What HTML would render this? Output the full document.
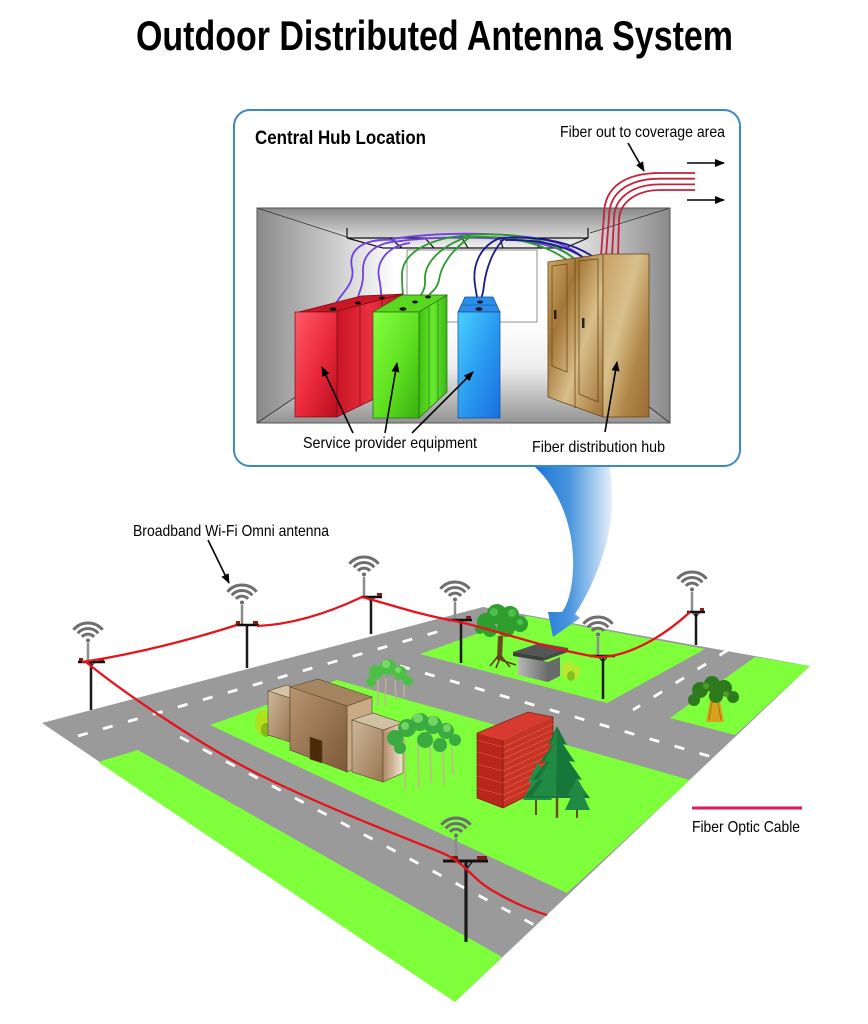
<!DOCTYPE html>
<html><head><meta charset="utf-8">
<style>html,body{margin:0;padding:0;background:#fff;}svg{display:block}</style>
</head><body>
<svg width="868" height="1024" viewBox="0 0 868 1024" xmlns="http://www.w3.org/2000/svg">
<defs>
  <marker id="ah" markerWidth="10" markerHeight="8" refX="9" refY="4" orient="auto" markerUnits="userSpaceOnUse">
    <path d="M0,0 L10,4 L0,8 Z" fill="#000"/>
  </marker>
  <g id="wf" fill="none" stroke="#6e6e6e" stroke-width="3">
    <path d="M-14.6,-12.2 A19,19 0 0 1 14.6,-12.2"/>
    <path d="M-10.3,-8.7 A13.5,13.5 0 0 1 10.3,-8.7"/>
    <path d="M-6.1,-5.1 A8,8 0 0 1 6.1,-5.1"/>
    <circle cx="0" cy="-1.5" r="2" fill="#6e6e6e" stroke="none"/>
  </g>
  <linearGradient id="gCeil" gradientUnits="userSpaceOnUse" x1="0" y1="208" x2="0" y2="250">
    <stop offset="0" stop-color="#8a8a8a"/><stop offset="1" stop-color="#f6f6f6"/>
  </linearGradient>
  <linearGradient id="gLeft" gradientUnits="userSpaceOnUse" x1="257" y1="0" x2="395" y2="0">
    <stop offset="0" stop-color="#8a8a8a"/><stop offset="1" stop-color="#ffffff"/>
  </linearGradient>
  <linearGradient id="gRight" gradientUnits="userSpaceOnUse" x1="670" y1="0" x2="545" y2="0">
    <stop offset="0" stop-color="#8a8a8a"/><stop offset="1" stop-color="#ffffff"/>
  </linearGradient>
  <linearGradient id="gFloor" gradientUnits="userSpaceOnUse" x1="0" y1="322" x2="0" y2="423">
    <stop offset="0" stop-color="#ffffff"/><stop offset="0.45" stop-color="#eeeeee"/><stop offset="1" stop-color="#939393"/>
  </linearGradient>
  <linearGradient id="gRedF" x1="0" y1="0" x2="1" y2="1">
    <stop offset="0" stop-color="#ff5a6a"/><stop offset="0.55" stop-color="#e8283a"/><stop offset="1" stop-color="#b80e1e"/>
  </linearGradient>
  <linearGradient id="gRedS" x1="0" y1="0" x2="1" y2="0">
    <stop offset="0" stop-color="#c81424"/><stop offset="0.5" stop-color="#e83040"/><stop offset="1" stop-color="#c01020"/>
  </linearGradient>
  <linearGradient id="gGrF" x1="0" y1="0" x2="1" y2="1">
    <stop offset="0" stop-color="#86ff40"/><stop offset="0.55" stop-color="#5ee020"/><stop offset="1" stop-color="#38b010"/>
  </linearGradient>
  <linearGradient id="gGrS" x1="0" y1="0" x2="1" y2="0">
    <stop offset="0" stop-color="#40c010"/><stop offset="0.5" stop-color="#68e830"/><stop offset="1" stop-color="#3cb818"/>
  </linearGradient>
  <linearGradient id="gBl" x1="0" y1="0" x2="1" y2="1">
    <stop offset="0" stop-color="#4ad0ff"/><stop offset="0.5" stop-color="#2a9cf0"/><stop offset="1" stop-color="#1a6ee0"/>
  </linearGradient>
  <linearGradient id="gBrS" x1="0" y1="0" x2="1" y2="1">
    <stop offset="0" stop-color="#d0aa6a"/><stop offset="0.3" stop-color="#a47638"/><stop offset="0.6" stop-color="#d8be88"/><stop offset="1" stop-color="#a07036"/>
  </linearGradient>
  <linearGradient id="gBrF" x1="0" y1="0" x2="1" y2="1">
    <stop offset="0" stop-color="#c8a064"/><stop offset="0.4" stop-color="#d8c08c"/><stop offset="0.7" stop-color="#b08648"/><stop offset="1" stop-color="#9a6c32"/>
  </linearGradient>
  <linearGradient id="gArrow" x1="0" y1="0" x2="1" y2="0">
    <stop offset="0" stop-color="#1a74d4"/><stop offset="0.45" stop-color="#4a96de"/><stop offset="1" stop-color="#e6f0fa"/>
  </linearGradient>
  <linearGradient id="gTanF" x1="0" y1="0" x2="1" y2="1">
    <stop offset="0" stop-color="#b89470"/><stop offset="1" stop-color="#7c5838"/>
  </linearGradient>
  <linearGradient id="gTanR" x1="0" y1="0" x2="1" y2="0">
    <stop offset="0" stop-color="#b08a64"/><stop offset="1" stop-color="#f2e4d4"/>
  </linearGradient>
  <linearGradient id="gTanS" x1="0" y1="0" x2="1" y2="1">
    <stop offset="0" stop-color="#cdb89a"/><stop offset="1" stop-color="#9a7652"/>
  </linearGradient>
  <linearGradient id="gHut" x1="0" y1="0" x2="1" y2="0">
    <stop offset="0" stop-color="#b8b8b8"/><stop offset="1" stop-color="#6a6a6a"/>
  </linearGradient>
</defs>

<rect width="868" height="1024" fill="#fff"/>

<!-- Title -->
<text x="136" y="50" font-family="Liberation Sans, Arial, sans-serif" font-weight="bold" font-size="42" textLength="597" lengthAdjust="spacingAndGlyphs" fill="#000">Outdoor Distributed Antenna System</text>

<!-- Hub box -->
<rect x="234" y="110" width="506" height="356" rx="16" ry="16" fill="#fff" stroke="#3a89c9" stroke-width="2"/>
<text x="255" y="144" font-family="Liberation Sans, Arial, sans-serif" font-weight="bold" font-size="19" textLength="171" lengthAdjust="spacingAndGlyphs">Central Hub Location</text>
<text x="560" y="137" font-family="Liberation Sans, Arial, sans-serif" font-size="16" textLength="165" lengthAdjust="spacingAndGlyphs">Fiber out to coverage area</text>
<line x1="628" y1="143" x2="644" y2="171" stroke="#000" stroke-width="1.6" marker-end="url(#ah)"/>
<line x1="687" y1="163" x2="724" y2="163" stroke="#000" stroke-width="1.6" marker-end="url(#ah)"/>
<line x1="687" y1="200" x2="724" y2="200" stroke="#000" stroke-width="1.6" marker-end="url(#ah)"/>

<!-- Room -->
<rect x="257" y="208" width="413" height="215" fill="#8c8c8c"/>
<polygon points="257,208 670,208 537,250 407,250" fill="url(#gCeil)"/>
<polygon points="257,208 407,250 407,322 257,423" fill="url(#gLeft)"/>
<polygon points="670,208 537,250 537,322 670,423" fill="url(#gRight)"/>
<polygon points="257,423 407,322 537,322 670,423" fill="url(#gFloor)"/>
<rect x="407" y="250" width="130" height="72" fill="#fff" stroke="#777" stroke-width="0.8"/>
<g stroke="#333" stroke-width="0.8" fill="none">
  <line x1="257" y1="208" x2="347" y2="237"/>
  <line x1="670" y1="208" x2="590" y2="233"/>
  <line x1="257" y1="423" x2="300" y2="394"/>
  <line x1="670" y1="423" x2="648" y2="406"/>
</g>
<rect x="257" y="208" width="413" height="215" fill="none" stroke="#555" stroke-width="1"/>

<!-- fiber bundle -->
<g fill="none" stroke="#c8203c" stroke-width="1.8">
  <path d="M695,173 L660,173 C628,173 604,185 604,215 L601,256"/>
  <path d="M695,178.7 L660,178.7 C632,178.7 609,190 609,217 L606,256"/>
  <path d="M695,184.4 L660,184.4 C636,184.4 614,195 614,219 L612,256"/>
  <path d="M695,190 L660,190 C640,190 619,200 619,221 L618,256"/>
</g>

<!-- tray -->
<g stroke="#111" stroke-width="1.2" fill="none">
  <line x1="347" y1="228" x2="347" y2="238"/>
  <line x1="588" y1="228" x2="588" y2="238"/>
  <line x1="347" y1="238" x2="588" y2="238"/>
  <line x1="383" y1="248" x2="565" y2="248"/>
  <line x1="347" y1="238" x2="383" y2="248"/>
  <line x1="588" y1="238" x2="565" y2="248"/>
  <line x1="390" y1="238" x2="402" y2="248"/>
  <line x1="425" y1="238" x2="434" y2="248"/>
  <line x1="462" y1="238" x2="468" y2="248"/>
  <line x1="500" y1="238" x2="503" y2="248"/>
  <line x1="540" y1="238" x2="538" y2="248"/>
</g>

<!-- cables -->
<g fill="none" stroke-width="1.8">
  <g stroke="#7040e0">
    <path d="M395,240 C362,238 348,250 352,268 C356,285 338,295 333,309"/>
    <path d="M402,241 C374,242 362,255 363,272 C364,288 356,295 358,303"/>
    <path d="M410,243 C387,246 376,262 379,278 C382,290 380,294 382,298"/>
    <path d="M392,239 C450,230 530,233 560,244 C575,250 582,256 588,264"/>
    <path d="M400,241 C455,234 528,238 556,248 C568,253 575,258 580,265"/>
  </g>
  <g stroke="#2a9a2a">
    <path d="M470,235 C425,238 402,255 402,275 C402,292 404,300 403,309"/>
    <path d="M470,236 C442,245 424,262 425,280 C426,292 418,298 415,302"/>
    <path d="M470,237 C452,250 441,265 439,280 C437,290 430,292 428,297"/>
    <path d="M470,235 C522,231 558,243 578,262"/>
    <path d="M470,237 C518,235 552,247 572,264"/>
  </g>
  <g stroke="#1a1a8a">
    <path d="M500,238 C480,246 472,265 475,285 C477,298 478,302 479,308"/>
    <path d="M505,238 C492,250 486,270 484,285 C483,296 481,298 480,302"/>
    <path d="M498,238 C545,235 575,244 595,258"/>
    <path d="M505,240 C545,239 572,248 590,262"/>
  </g>
</g>

<!-- red cabinets -->
<polygon points="337,311 403,294 403,385 337,417" fill="url(#gRedS)" stroke="#7a0a10" stroke-width="0.7"/>
<polygon points="295,313 337,311 403,294 361,296" fill="#c81828" stroke="#7a0a10" stroke-width="0.7"/>
<rect x="295" y="312" width="42" height="105" fill="url(#gRedF)" stroke="#7a0a10" stroke-width="0.7"/>
<line x1="360" y1="305" x2="360" y2="406" stroke="#8a0a14" stroke-width="0.8"/>
<line x1="382" y1="300" x2="382" y2="395" stroke="#8a0a14" stroke-width="0.8"/>
<g fill="#111"><ellipse cx="333" cy="309" rx="3.5" ry="1.8"/><ellipse cx="358" cy="303" rx="3" ry="1.5"/><ellipse cx="382" cy="298" rx="3" ry="1.5"/></g>

<!-- green cabinets -->
<polygon points="419,312 447,295 447,392 419,418" fill="url(#gGrS)" stroke="#1e6a0a" stroke-width="0.7"/>
<polygon points="373,312 419,312 447,295 402,295" fill="#5ad820" stroke="#1e6a0a" stroke-width="0.7"/>
<rect x="373" y="312" width="46" height="106" fill="url(#gGrF)" stroke="#1e6a0a" stroke-width="0.7"/>
<line x1="429" y1="306" x2="429" y2="409" stroke="#2a8a10" stroke-width="0.8"/>
<line x1="438" y1="301" x2="438" y2="400" stroke="#2a8a10" stroke-width="0.8"/>
<g fill="#111"><ellipse cx="403" cy="309" rx="3.5" ry="1.8"/><ellipse cx="415" cy="302" rx="3" ry="1.5"/><ellipse cx="428" cy="297" rx="3" ry="1.5"/></g>

<!-- blue cabinet -->
<polygon points="458,312 465,297 493,297 500,312" fill="#2a8ee8" stroke="#0e4a9a" stroke-width="0.7"/>
<line x1="461" y1="305" x2="497" y2="305" stroke="#0e4a9a" stroke-width="0.6"/>
<rect x="458" y="312" width="42" height="106" fill="url(#gBl)" stroke="#0e4a9a" stroke-width="0.7"/>
<g fill="#111"><ellipse cx="479" cy="309" rx="3.5" ry="1.8"/><ellipse cx="480" cy="302" rx="3" ry="1.5"/></g>

<!-- brown cabinets -->
<polygon points="548,262 603,254 603,417 548,397" fill="url(#gBrS)" stroke="#6a4818" stroke-width="0.8"/>
<rect x="603" y="254" width="46" height="163" fill="url(#gBrF)" stroke="#6a4818" stroke-width="0.8"/>
<line x1="575" y1="258" x2="575" y2="408" stroke="#6a4818" stroke-width="0.8"/>
<g fill="none" stroke="#6a4818" stroke-width="0.8">
  <polygon points="552,266 567,264 567,372 552,366"/>
  <polygon points="579,261 598,259 598,402 579,394"/>
</g>
<rect x="554" y="310" width="2.5" height="9" fill="#222"/>
<rect x="582" y="318" width="2.5" height="10" fill="#222"/>

<!-- hub labels -->
<text x="303" y="448" font-family="Liberation Sans, Arial, sans-serif" font-size="16" textLength="174" lengthAdjust="spacingAndGlyphs">Service provider equipment</text>
<text x="532" y="452" font-family="Liberation Sans, Arial, sans-serif" font-size="16" textLength="133" lengthAdjust="spacingAndGlyphs">Fiber distribution hub</text>
<g stroke="#000" stroke-width="1.6">
  <line x1="353" y1="433" x2="322" y2="367" marker-end="url(#ah)"/>
  <line x1="385" y1="433" x2="397" y2="363" marker-end="url(#ah)"/>
  <line x1="412" y1="433" x2="473" y2="372" marker-end="url(#ah)"/>
  <line x1="605" y1="432" x2="617" y2="362" marker-end="url(#ah)"/>
</g>

<!-- Ground -->
<polygon points="42,723 483,607 810,666 455,1002" fill="#9a9a9a"/>
<g fill="#7fff3c">
  <polygon points="98,762 138,750 502,957 455,1002"/>
  <polygon points="210,725 337,680 690,780 567,893"/>
  <polygon points="420,654 527,616 705,649 607,703"/>
  <polygon points="670,718 755,657 810,666 735,735"/>
</g>
<g stroke="#fff" stroke-width="2.8" stroke-dasharray="10 16" fill="none">
  <line x1="78" y1="736" x2="440" y2="631"/>
  <line x1="180" y1="737" x2="540" y2="928"/>
  <line x1="400" y1="666" x2="712" y2="757"/>
  <line x1="728" y1="650" x2="633" y2="710"/>
</g>

<!-- Blue arrow -->
<path d="M535,467 C560,490 575,530 573,570 C572,590 568,604 562,612 L548,612 L553,637 L580,618 L575,614 C592,590 612,540 612,505 C612,485 611,475 610,467 Z" fill="url(#gArrow)"/>

<!-- top block tree -->
<g>
  <path d="M498,636 L503,636 L502,660 L497,660 Z" fill="#6b4a1c"/>
  <path d="M499,655 L490,666 M500,658 L496,668 M501,656 L510,667 M501,660 L516,665" stroke="#5a3a12" stroke-width="1.6" fill="none"/>
  <g fill="#2e9e2e">
    <circle cx="486" cy="622" r="9"/><circle cx="497" cy="614" r="10"/><circle cx="510" cy="615" r="9"/>
    <circle cx="520" cy="624" r="8"/><circle cx="490" cy="630" r="7"/><circle cx="506" cy="628" r="9"/><circle cx="480" cy="629" r="5"/>
  </g>
  <g fill="#4cc04c"><circle cx="494" cy="612" r="4"/><circle cx="512" cy="613" r="4"/><circle cx="520" cy="622" r="3"/></g>
</g>

<!-- hut -->
<polygon points="518,657 548,662 548,682 518,675" fill="url(#gHut)"/>
<polygon points="548,662 560,657 560,676 548,682" fill="#6a6a6a"/>
<polygon points="513,652 540,643 568,648 543,657" fill="#555"/>
<polygon points="513,652 543,657 543,661 513,656" fill="#3e3e3e"/>
<polygon points="543,657 568,648 568,652 543,661" fill="#4a4a4a"/>
<!-- bush near hut -->
<g fill="#b8e830"><ellipse cx="568" cy="670" rx="6" ry="9"/><ellipse cx="575" cy="672" rx="5" ry="7"/></g>
<g fill="#86c020"><ellipse cx="571" cy="676" rx="4" ry="5"/></g>

<!-- right block tree -->
<g>
  <polygon points="710,700 720,700 724,722 706,722" fill="#d9a21e"/>
  <path d="M712,702 L709,720 M718,702 L721,720" stroke="#9a6a10" stroke-width="0.8"/>
  <g fill="#2f7a1c">
    <circle cx="700" cy="690" r="8"/><circle cx="712" cy="684" r="8"/><circle cx="724" cy="688" r="8"/>
    <circle cx="733" cy="697" r="6"/><circle cx="694" cy="700" r="6"/><circle cx="716" cy="696" r="7"/>
  </g>
  <g fill="#4e9a2a"><circle cx="706" cy="686" r="3"/><circle cx="726" cy="694" r="3"/></g>
</g>

<!-- trees near tan building top -->
<g stroke="#c8b090" stroke-width="1.3">
  <line x1="378" y1="680" x2="378" y2="706"/><line x1="386" y1="678" x2="385" y2="705"/>
  <line x1="395" y1="680" x2="396" y2="700"/><line x1="404" y1="683" x2="404" y2="697"/>
</g>
<g fill="#4cbf45">
  <circle cx="376" cy="672" r="7"/><circle cx="388" cy="667" r="8"/><circle cx="400" cy="673" r="7"/>
  <circle cx="408" cy="681" r="5"/><circle cx="371" cy="682" r="5"/>
</g>
<g fill="#7ad86a"><circle cx="386" cy="664" r="4"/><circle cx="398" cy="670" r="3"/></g>

<!-- bush left of tan building -->
<g fill="#b0e020"><ellipse cx="262" cy="722" rx="7" ry="12"/><ellipse cx="271" cy="726" rx="7" ry="10"/></g>
<g fill="#86b818"><ellipse cx="266" cy="730" rx="5" ry="7"/></g>

<!-- tan building -->
<g stroke="#5a4430" stroke-width="0.6">
  <polygon points="268,691 287,685 290,686 290,698" fill="#d4c4a2"/>
  <polygon points="268,691 290,698 290,742 268,735" fill="url(#gTanS)"/>
  <polygon points="347,706 372,697 372,760 347,772" fill="#c8aa84"/>
  <polygon points="290,687 318,679 372,697 347,706" fill="#a58560"/>
  <polygon points="290,687 347,706 347,772 290,750" fill="url(#gTanF)"/>
  <polygon points="310,737 322,741 322,763 310,759" fill="#4a2a08"/>
  <polygon points="352,720 373,713 403,723 383,730" fill="#cfc2a2"/>
  <polygon points="352,720 383,730 383,782 352,772" fill="url(#gTanS)"/>
  <polygon points="383,730 403,723 403,773 383,782" fill="url(#gTanR)"/>
</g>

<!-- tree cluster between buildings -->
<g stroke="#c8b48c" stroke-width="1.5">
  <line x1="392" y1="745" x2="393" y2="775"/><line x1="405" y1="740" x2="405" y2="790"/>
  <line x1="418" y1="740" x2="419" y2="788"/><line x1="430" y1="745" x2="431" y2="783"/>
  <line x1="443" y1="748" x2="444" y2="785"/><line x1="452" y1="748" x2="453" y2="775"/>
</g>
<g fill="#3aab40">
  <circle cx="395" cy="738" r="8"/><circle cx="407" cy="728" r="9"/><circle cx="420" cy="722" r="9"/>
  <circle cx="433" cy="725" r="9"/><circle cx="446" cy="731" r="8"/><circle cx="455" cy="740" r="6"/>
  <circle cx="400" cy="748" r="6"/><circle cx="425" cy="740" r="8"/><circle cx="440" cy="745" r="7"/>
</g>
<g fill="#74d466"><circle cx="418" cy="718" r="5"/><circle cx="433" cy="721" r="5"/><circle cx="447" cy="728" r="4"/><circle cx="405" cy="726" r="4"/></g>

<!-- red building -->
<polygon points="477,733 503,740 503,808 477,798" fill="#b8261c"/>
<polygon points="503,740 553,717 553,783 503,808" fill="#c83424"/>
<polygon points="477,733 528,712 553,717 503,740" fill="#d83a30"/>
<g stroke="#e88070" stroke-width="0.6" opacity="0.7">
  <line x1="503" y1="747" x2="553" y2="724"/><line x1="503" y1="753" x2="553" y2="730"/>
  <line x1="503" y1="759" x2="553" y2="736"/><line x1="503" y1="765" x2="553" y2="742"/>
  <line x1="503" y1="771" x2="553" y2="748"/><line x1="503" y1="777" x2="553" y2="754"/>
  <line x1="503" y1="783" x2="553" y2="760"/><line x1="503" y1="789" x2="553" y2="766"/>
  <line x1="503" y1="795" x2="553" y2="772"/><line x1="503" y1="801" x2="553" y2="778"/>
  <line x1="477" y1="740" x2="503" y2="747"/><line x1="477" y1="752" x2="503" y2="759"/>
  <line x1="477" y1="764" x2="503" y2="771"/><line x1="477" y1="776" x2="503" y2="783"/>
  <line x1="477" y1="788" x2="503" y2="795"/>
</g>
<g stroke="#6a1008" stroke-width="0.6" fill="none">
  <polygon points="477,733 528,712 553,717 553,783 503,808 477,798"/>
  <line x1="503" y1="740" x2="503" y2="808"/>
</g>

<!-- pines -->
<line x1="536" y1="790" x2="536" y2="815" stroke="#6b4a1c" stroke-width="2"/>
<polygon points="538,762 528,782 532,782 523,800 552,800 544,782 548,782" fill="#23904a"/>
<line x1="557" y1="795" x2="557" y2="818" stroke="#6b4a1c" stroke-width="2.5"/>
<polygon points="557,726 548,745 553,744 540,762 547,761 532,780 539,779 523,798 590,798 576,779 582,780 569,761 575,762 563,744 567,745" fill="#17773a"/>
<polygon points="557,730 550,745 554,744 544,762 550,761 538,780 544,779 532,796 556,796" fill="#2a9a4a" opacity="0.6"/>
<line x1="577" y1="808" x2="577" y2="818" stroke="#6b4a1c" stroke-width="2"/>
<polygon points="577,778 568,795 572,795 565,810 590,810 583,795 587,795" fill="#1f8a44"/>

<!-- poles -->
<g>
  <use href="#wf" x="88" y="642"/>
  <line x1="88" y1="643" x2="88" y2="661" stroke="#8c8c8c" stroke-width="2.5"/>
  <line x1="91" y1="662" x2="91" y2="710" stroke="#1a1a1a" stroke-width="2.5"/>
  <line x1="78" y1="662" x2="105" y2="662" stroke="#111" stroke-width="2.5"/>
  <rect x="79" y="658" width="4" height="3" fill="#8b1a1a"/><rect x="99" y="658" width="5" height="3" fill="#8b1a1a"/>
  <path d="M87,662 L91,667 L95,662" stroke="#111" fill="none" stroke-width="1"/>
</g>
<g>
  <use href="#wf" x="242" y="604"/>
  <line x1="242" y1="605" x2="242" y2="624" stroke="#8c8c8c" stroke-width="2.5"/>
  <line x1="247" y1="625" x2="247" y2="668" stroke="#1a1a1a" stroke-width="2.5"/>
  <line x1="235" y1="625" x2="259" y2="625" stroke="#111" stroke-width="2.5"/>
  <rect x="236" y="621" width="4" height="3" fill="#8b1a1a"/><rect x="253" y="621" width="5" height="3" fill="#8b1a1a"/>
</g>
<g>
  <use href="#wf" x="364" y="576"/>
  <line x1="364" y1="577" x2="364" y2="596" stroke="#8c8c8c" stroke-width="2.5"/>
  <line x1="371" y1="597" x2="371" y2="634" stroke="#1a1a1a" stroke-width="2.5"/>
  <line x1="361" y1="597" x2="382" y2="597" stroke="#111" stroke-width="2.5"/>
  <rect x="377" y="593" width="5" height="3" fill="#8b1a1a"/>
  <path d="M367,597 L371,602 L375,597" stroke="#111" fill="none" stroke-width="1"/>
</g>
<g>
  <use href="#wf" x="455" y="601"/>
  <line x1="455" y1="602" x2="455" y2="619" stroke="#8c8c8c" stroke-width="2.5"/>
  <line x1="461" y1="620" x2="461" y2="663" stroke="#1a1a1a" stroke-width="2.5"/>
  <line x1="448" y1="620" x2="472" y2="620" stroke="#111" stroke-width="2.5"/>
  <rect x="466" y="616" width="5" height="3" fill="#8b1a1a"/>
</g>
<g>
  <use href="#wf" x="598" y="636"/>
  <line x1="598" y1="637" x2="598" y2="655" stroke="#8c8c8c" stroke-width="2.5"/>
  <line x1="603" y1="656" x2="603" y2="699" stroke="#1a1a1a" stroke-width="2.5"/>
  <line x1="590" y1="656" x2="615" y2="656" stroke="#111" stroke-width="2.5"/>
  <path d="M598,656 L603,662 L608,656" stroke="#111" fill="none" stroke-width="1"/>
</g>
<g>
  <use href="#wf" x="692" y="591"/>
  <line x1="692" y1="592" x2="692" y2="611" stroke="#8c8c8c" stroke-width="2.5"/>
  <line x1="696" y1="612" x2="696" y2="645" stroke="#1a1a1a" stroke-width="2.5"/>
  <line x1="687" y1="612" x2="705" y2="612" stroke="#111" stroke-width="2.5"/>
  <rect x="700" y="608" width="4" height="3" fill="#8b1a1a"/>
  <path d="M692,612 L696,617 L700,612" stroke="#111" fill="none" stroke-width="1"/>
</g>
<g>
  <use href="#wf" x="456" y="837"/>
  <line x1="456" y1="838" x2="456" y2="859" stroke="#8c8c8c" stroke-width="2.5"/>
  <line x1="466" y1="861" x2="466" y2="942" stroke="#1a1a1a" stroke-width="3.2"/>
  <line x1="443" y1="861" x2="488" y2="861" stroke="#111" stroke-width="3"/>
  <rect x="452" y="856" width="6" height="4" fill="#7a1a1a"/><rect x="477" y="856" width="10" height="4" fill="#7a1a1a"/>
  <path d="M460,862 L466,870 L472,862" stroke="#111" fill="none" stroke-width="1.3"/>
</g>

<!-- fiber cable (red) -->
<g fill="none" stroke="#e5141b" stroke-width="2.3">
  <path d="M82,662 Q155,651 237,625"/>
  <path d="M257,626 Q305,624 362,597"/>
  <path d="M362,597 C385,603 420,615 455,621 C490,628 550,650 598,657 C630,657 665,635 690,612"/>
  <path d="M86,662 C120,690 200,745 260,775 C320,805 400,836 440,852 C450,856 456,860 463,866 C472,874 480,884 495,892 C510,901 530,910 547,915"/>
</g>

<!-- labels -->
<text x="133" y="536" font-family="Liberation Sans, Arial, sans-serif" font-size="16" textLength="196" lengthAdjust="spacingAndGlyphs">Broadband Wi-Fi Omni antenna</text>
<line x1="208" y1="540" x2="229" y2="583" stroke="#000" stroke-width="1.6" marker-end="url(#ah)"/>

<line x1="692" y1="808" x2="802" y2="808" stroke="#de1a5a" stroke-width="3"/>
<text x="692" y="832" font-family="Liberation Sans, Arial, sans-serif" font-size="16" textLength="108" lengthAdjust="spacingAndGlyphs">Fiber Optic Cable</text>
</svg>
</body></html>
